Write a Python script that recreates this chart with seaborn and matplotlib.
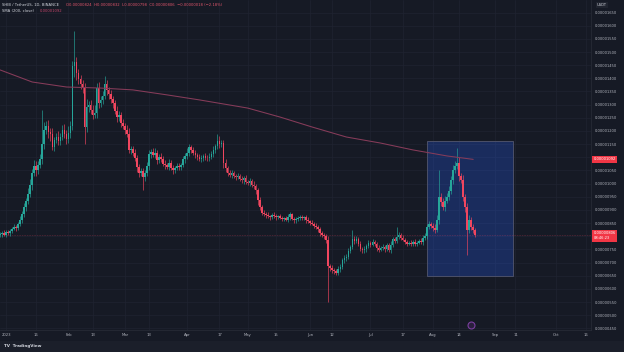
import numpy as np
import pandas as pd
import matplotlib
matplotlib.use("Agg")
import matplotlib.pyplot as plt
import matplotlib.dates as mdates
from matplotlib.patches import Rectangle
import seaborn as sns

# precios diarios SHIB/USDT en unidades de 1e-8 (29 dic 2022 -> 21 ago 2023)
first_open = 805
closes = [808, 812, 806, 815, 812, 820, 828, 836, 830, 845,
          862, 884, 910, 932, 962, 994, 1040, 1066, 1050, 1072,
          1092, 1150, 1205, 1218, 1196, 1188, 1140, 1166, 1178, 1160,
          1178, 1205, 1188, 1168, 1192, 1218, 1445, 1462, 1420, 1398,
          1380, 1362, 1215, 1290, 1300, 1278, 1262, 1270, 1365, 1306,
          1318, 1332, 1380, 1356, 1340, 1322, 1305, 1275, 1253, 1262,
          1232, 1218, 1205, 1190, 1128, 1132, 1116, 1098, 1062, 1040,
          1046, 1025, 1040, 1065, 1112, 1120, 1110, 1118, 1088, 1102,
          1095, 1076, 1070, 1062, 1078, 1060, 1050, 1058, 1068, 1062,
          1070, 1092, 1104, 1118, 1140, 1128, 1116, 1110, 1100, 1092,
          1098, 1104, 1098, 1096, 1102, 1112, 1128, 1142, 1162, 1150,
          1155, 1080, 1060, 1040, 1034, 1040, 1028, 1026, 1030, 1018,
          1012, 1020, 1006, 1004, 1010, 996, 990, 976, 938, 912,
          890, 884, 880, 876, 872, 882, 876, 872, 875, 870,
          866, 868, 862, 872, 884, 866, 860, 864, 870, 873,
          868, 872, 862, 856, 852, 848, 840, 834, 828, 812,
          806, 800, 786, 685, 680, 672, 668, 662, 676, 684,
          708, 718, 722, 745, 760, 788, 782, 790, 772, 752,
          746, 752, 762, 774, 768, 778, 770, 755, 748, 756,
          760, 750, 765, 748, 768, 788, 782, 798, 806, 795,
          786, 778, 772, 776, 770, 778, 772, 776, 782, 778,
          792, 800, 836, 845, 838, 830, 824, 862, 948, 930,
          910, 935, 950, 972, 1012, 1052, 1065, 1080, 1028, 1015,
          950, 912, 825, 862, 836, 824, 806]
wick_up = [8, 6, 10, 7, 9, 6, 8, 12, 7, 10,
           14, 12, 18, 15, 20, 22, 16, 25, 18, 14,
           20, 130, 30, 18, 22, 15, 24, 12, 16, 20,
           14, 18, 22, 15, 25, 20, 20, 116, 18, 15,
           16, 12, 20, 30, 14, 18, 20, 28, 16, 22,
           15, 18, 30, 14, 12, 16, 10, 14, 18, 12,
           10, 14, 12, 16, 20, 10, 12, 14, 10, 12,
           14, 12, 10, 18, 15, 12, 14, 16, 10, 12,
           14, 10, 12, 8, 14, 10, 12, 8, 10, 12,
           10, 14, 12, 18, 10, 8, 12, 10, 8, 12,
           10, 8, 12, 10, 14, 12, 16, 10, 25, 18,
           12, 10, 14, 8, 10, 12, 8, 10, 12, 8,
           10, 8, 12, 8, 10, 8, 12, 10, 8, 10,
           8, 10, 8, 12, 6, 8, 10, 8, 6, 8,
           8, 6, 10, 12, 8, 6, 8, 10, 6, 8,
           8, 6, 8, 10, 6, 8, 6, 10, 8, 6,
           8, 6, 10, 14, 8, 10, 6, 8, 10, 12,
           8, 10, 12, 10, 8, 36, 12, 10, 8, 10,
           8, 10, 8, 12, 8, 10, 6, 8, 10, 8,
           10, 6, 8, 10, 12, 8, 10, 37, 10, 8,
           8, 6, 8, 6, 8, 6, 10, 6, 8, 10,
           12, 14, 10, 12, 8, 14, 16, 20, 104, 18,
           15, 18, 14, 20, 16, 18, 22, 55, 20, 14,
           18, 12, 14, 20, 12, 10, 8]
wick_dn = [8, 10, 6, 9, 7, 10, 8, 6, 9, 7,
           8, 10, 12, 15, 10, 14, 18, 12, 20, 15,
           14, 18, 20, 16, 22, 25, 14, 18, 12, 15,
           14, 12, 16, 18, 14, 20, 15, 40, 25, 18,
           20, 16, 65, 20, 18, 14, 16, 12, 20, 18,
           16, 14, 12, 18, 20, 14, 16, 12, 18, 14,
           16, 12, 18, 14, 10, 16, 12, 14, 18, 15,
           12, 50, 14, 10, 12, 16, 10, 14, 12, 10,
           12, 10, 14, 8, 12, 10, 14, 10, 8, 12,
           10, 8, 12, 10, 14, 10, 8, 12, 10, 8,
           10, 12, 8, 10, 12, 8, 10, 12, 10, 14,
           12, 20, 16, 12, 10, 14, 8, 12, 10, 8,
           10, 12, 8, 10, 12, 8, 10, 14, 20, 12,
           10, 8, 12, 8, 10, 6, 8, 10, 8, 6,
           8, 10, 6, 8, 10, 6, 8, 10, 6, 8,
           6, 8, 10, 6, 8, 6, 10, 8, 12, 10,
           8, 10, 12, 135, 14, 10, 12, 8, 10, 12,
           10, 8, 12, 10, 8, 10, 12, 8, 10, 8,
           10, 8, 12, 8, 10, 6, 8, 10, 8, 6,
           8, 10, 6, 8, 10, 8, 6, 8, 10, 8,
           6, 8, 10, 6, 8, 6, 8, 10, 6, 8,
           10, 8, 12, 10, 8, 12, 10, 8, 14, 16,
           12, 14, 10, 12, 10, 14, 12, 10, 18, 14,
           16, 20, 96, 12, 14, 10, 8]

# media movil 200
sma_dates = ["2022-12-29", "2023-01-14", "2023-01-31", "2023-02-17", "2023-03-05",
             "2023-03-22", "2023-04-07", "2023-05-01", "2023-05-17", "2023-06-02",
             "2023-06-19", "2023-07-06", "2023-07-22", "2023-08-08", "2023-08-21"]
sma_vals = [1432, 1386, 1367, 1363, 1356, 1337, 1318, 1287, 1253, 1215,
            1177, 1154, 1128, 1105, 1092]

price_ticks = list(range(450, 1651, 50))
time_ticks = ["2023-01-01", "2023-01-16", "2023-02-01", "2023-02-13", "2023-03-01",
              "2023-03-13", "2023-04-01", "2023-04-17", "2023-05-01", "2023-05-15",
              "2023-06-01", "2023-06-12", "2023-07-01", "2023-07-17", "2023-08-01",
              "2023-08-14", "2023-09-01", "2023-09-11", "2023-10-01", "2023-10-16"]
time_labels = ["2023", "16", "Feb", "13", "Mar", "13", "Apr", "17", "May", "15",
               "Jun", "12", "Jul", "17", "Aug", "14", "Sep", "11", "Oct", "16"]

# rectangulo dibujado (zona de agosto)
box_dates = ["2023-07-29", "2023-09-10"]
box_prices = [649, 1162]
event_date = "2023-08-20"

BG = "#161a25"
UP = "#26a69a"
DOWN = "#f0465f"
TXT = "#b2b5be"

sns.set_style("dark", {"axes.facecolor": BG, "figure.facecolor": BG,
                       "grid.color": "#1f2331", "axes.edgecolor": "#2a2e39"})
plt.rcParams["font.family"] = ["DejaVu Sans"]

fig = plt.figure(figsize=(6.24, 3.52), dpi=100)
fig.patches.append(Rectangle((0, 0), 1, 11 / 352, transform=fig.transFigure,
                             facecolor="#1b1f2a", edgecolor="none", zorder=0))
ax = fig.add_axes([0, 22 / 352, 591 / 624, 330 / 352])

dates = pd.date_range("2022-12-29", periods=len(closes), freq="D")
x = mdates.date2num(dates)
c = np.array(closes, dtype=float)
o = np.array([first_open] + closes[:-1], dtype=float)
highs = np.maximum(o, c) + np.array(wick_up)
lows = np.minimum(o, c) - np.array(wick_dn)
colors = np.where(c >= o, UP, DOWN)

# rectangulo azul
bx = mdates.date2num(pd.to_datetime(box_dates))
ax.add_patch(Rectangle((bx[0], box_prices[0]), bx[1] - bx[0], box_prices[1] - box_prices[0],
                       facecolor=(41 / 255, 98 / 255, 1.0, 0.26), edgecolor="#4b5069",
                       lw=0.7, zorder=1))

ax.vlines(x, lows, highs, colors=colors, lw=0.45, zorder=2)
ax.bar(x, np.maximum(np.abs(c - o), 2.5), bottom=np.minimum(o, c), width=0.78,
       color=colors, lw=0, zorder=3)

sns.lineplot(x=mdates.date2num(pd.to_datetime(sma_dates)), y=sma_vals, ax=ax,
             color="#873c5a", lw=0.75, zorder=4)

# linea de precio actual
ax.axhline(closes[-1], color=DOWN, lw=0.4, ls=(0, (1, 2)), alpha=0.7, zorder=1)

x0 = mdates.date2num(pd.Timestamp("2023-01-01"))
ax.set_xlim(x0 - 2.98, x0 + 290.5)
ax.set_ylim(443.6, 1697.6)

ax.yaxis.tick_right()
ax.set_yticks(price_ticks)
ylabels = []
for v in price_ticks:
    if abs(v - closes[-1]) < 25 or abs(v - sma_vals[-1]) < 25:
        ylabels.append("")
    else:
        ylabels.append(f"{v / 1e8:.8f}")
ax.set_yticklabels(ylabels)
ax.tick_params(axis="y", length=0, pad=3, labelsize=2.6, labelcolor=TXT)

ax.set_xticks(mdates.date2num(pd.to_datetime(time_ticks)))
ax.set_xticklabels(time_labels)
ax.tick_params(axis="x", length=0, pad=2.5, labelsize=2.7, labelcolor=TXT)
ax.grid(True, color="#1f2331", lw=0.5)
ax.set_xlabel("")
ax.set_ylabel("")
for side in ["top", "left"]:
    ax.spines[side].set_visible(False)
for side in ["bottom", "right"]:
    ax.spines[side].set_color("#2a2e39")
    ax.spines[side].set_linewidth(0.5)

# etiquetas rojas en el eje de precios
yt = ax.get_yaxis_transform()
ax.text(1.004, sma_vals[-1], f"{sma_vals[-1] / 1e8:.8f}", transform=yt, fontsize=2.6,
        color="white", va="center", ha="left", zorder=6,
        bbox=dict(boxstyle="square,pad=0.45", fc="#f23645", ec="none"))
ax.text(1.004, closes[-1] - 4, f"{closes[-1] / 1e8:.8f}\n08:46:23", transform=yt, fontsize=2.6,
        color="white", va="center", ha="left", linespacing=1.3, zorder=6,
        bbox=dict(boxstyle="square,pad=0.45", fc="#f23645", ec="none"))

# marcador de evento
ax.plot(mdates.date2num(pd.Timestamp(event_date)), 0.016, "o", transform=ax.get_xaxis_transform(),
        ms=5, mfc="#2a1f3d", mec="#7b3fa0", mew=0.8, clip_on=False, zorder=6)

# encabezado
chg = closes[-1] - closes[-2]
fig.text(2 / 624, 1 - 5 / 352, "SHIB / TetherUS, 1D, BINANCE", fontsize=2.7, color="#d1d4dc", va="center")
fig.text(66 / 624, 1 - 5 / 352,
         f"O{o[-1] / 1e8:.8f}  H{highs[-1] / 1e8:.8f}  L{lows[-1] / 1e8:.8f}  C{c[-1] / 1e8:.8f}  "
         f"\u2212{abs(chg) / 1e8:.8f} (\u2212{abs(chg) / closes[-2] * 100:.2f}%)",
         fontsize=2.7, color="#e0556b", va="center")
fig.text(2 / 624, 1 - 11 / 352, "SMA (200, close)", fontsize=2.7, color="#d1d4dc", va="center")
fig.text(40 / 624, 1 - 11 / 352, f"{sma_vals[-1] / 1e8:.8f}", fontsize=2.7, color="#c2456a", va="center")
fig.text(597 / 624, 1 - 5 / 352, "USDT", fontsize=2.6, color="#d1d4dc", va="center",
         bbox=dict(boxstyle="square,pad=0.4", fc="#20242f", ec="none"))
fig.text(4 / 624, 6 / 352, "\u0054\u0056  TradingView", fontsize=3.0, color="#d1d4dc",
         va="center", fontweight="bold")

fig.savefig("out.png", dpi=100, facecolor=BG)
